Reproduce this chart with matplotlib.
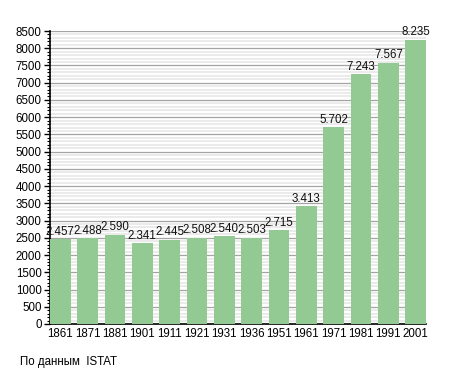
import matplotlib
matplotlib.use("Agg")
import matplotlib.pyplot as plt
from matplotlib.ticker import MultipleLocator

plt.rcParams['font.family'] = ['Liberation Sans', 'DejaVu Sans']

years = ["1861", "1871", "1881", "1901", "1911", "1921", "1931", "1936",
         "1951", "1961", "1971", "1981", "1991", "2001"]
population = [2457, 2488, 2590, 2341, 2445, 2508, 2540, 2503,
              2715, 3413, 5702, 7243, 7567, 8235]
caption = "По данным  ISTAT"

fig = plt.figure(figsize=(4.55, 3.73), dpi=100)
ax = fig.add_axes([50/455, 1-324/373, 376/455, 293/373])

x = list(range(len(years)))
ax.bar(x, population, width=0.75, color="#93c993", zorder=3)
for xi, v in zip(x, population):
    ax.text(xi, v + 50, f"{v:,}".replace(",", "."), ha="center", va="bottom",
            fontsize=8.3, color="#111111", zorder=4)

ax.set_xlim(-0.375, len(years) - 0.625)
ax.set_ylim(0, 8500)
ax.set_xticks(x)
ax.set_xticklabels(years, fontsize=8.3)
ax.yaxis.set_major_locator(MultipleLocator(500))
ax.yaxis.set_minor_locator(MultipleLocator(100))
ax.tick_params(axis='y', which='major', labelsize=8.3, length=4, width=1, direction='out', pad=2)
ax.tick_params(axis='y', which='minor', length=2, width=0.8, direction='out')
ax.tick_params(axis='x', length=0, labelsize=8.3, pad=3)
ax.grid(axis='y', which='major', color="#a4a4a4", linewidth=0.9, zorder=1)
ax.grid(axis='y', which='minor', color="#e8e8e8", linewidth=1.2, zorder=1)
for s in ["top", "right"]:
    ax.spines[s].set_visible(False)
ax.spines["left"].set_linewidth(1.2)
ax.spines["bottom"].set_linewidth(1.2)

fig.text(20/455, 1-362/373, caption, fontsize=8.3, ha="left", va="center")

fig.savefig("out.png", dpi=100)
